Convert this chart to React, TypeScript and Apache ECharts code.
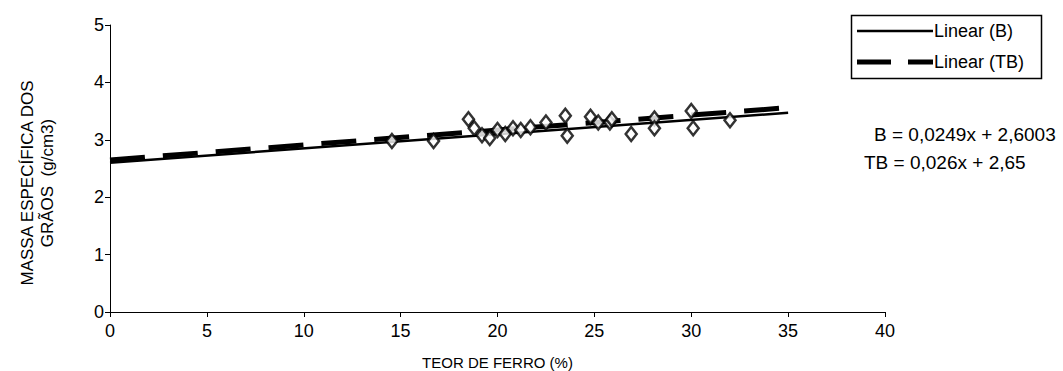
import React, { useEffect, useRef } from "react";
import * as echarts from "echarts";

const ironContent = [14.55, 16.7, 18.5, 18.8, 19.2, 19.6, 20.0, 20.4, 20.8, 21.2, 21.7, 22.5, 23.5, 23.6, 24.8, 25.2, 25.8, 25.9, 26.9, 28.1, 28.1, 30.0, 30.1, 32.0];
const grainDensity = [2.98, 2.98, 3.36, 3.2, 3.08, 3.03, 3.17, 3.1, 3.2, 3.17, 3.22, 3.3, 3.42, 3.07, 3.4, 3.3, 3.3, 3.36, 3.1, 3.37, 3.2, 3.5, 3.2, 3.34];
const trendX = [0, 35];
const trendB = [2.6003, 3.4718];
const trendTB = [2.65, 3.56];
const xTicks = [0, 5, 10, 15, 20, 25, 30, 35, 40];
const yTicks = [0, 1, 2, 3, 4, 5];
const legendNames = ["Linear (B)", "Linear (TB)"];
const equations = ["B = 0,0249x + 2,6003", "TB = 0,026x + 2,65"];

const FONT = "'Liberation Sans', Arial, sans-serif";

export default function App() {
  const ref = useRef<HTMLDivElement>(null);
  useEffect(() => {
    if (!ref.current) return;
    const chart = echarts.init(ref.current, null, { renderer: "svg" });
    chart.setOption({
      animation: false,
      backgroundColor: "#fff",
      textStyle: { fontFamily: FONT, color: "#000" },
      grid: { left: 110, right: 178, top: 25, bottom: 59, containLabel: false, outerBoundsMode: "none" },
      xAxis: {
        type: "value",
        min: xTicks[0],
        max: xTicks[xTicks.length - 1],
        interval: 5,
        name: "TEOR DE FERRO (%)",
        nameLocation: "middle",
        nameGap: 43,
        nameTextStyle: { fontFamily: FONT, fontSize: 15, color: "#000" },
        axisLine: { onZero: false, lineStyle: { color: "#000", width: 1 } },
        axisTick: { show: true, length: 5, lineStyle: { color: "#000" } },
        axisLabel: { fontFamily: FONT, fontSize: 18, color: "#000", margin: 10 },
        splitLine: { show: false },
      },
      yAxis: {
        type: "value",
        min: yTicks[0],
        max: yTicks[yTicks.length - 1],
        interval: 1,
        axisLine: { show: true, lineStyle: { color: "#000", width: 1 } },
        axisTick: { show: true, length: 5, lineStyle: { color: "#000" } },
        axisLabel: { fontFamily: FONT, fontSize: 18, color: "#000", margin: 6 },
        splitLine: { show: false },
      },
      series: [
        {
          name: legendNames[0],
          type: "line",
          data: trendX.map((x, i) => [x, trendB[i]]),
          symbol: "none",
          lineStyle: { color: "#000", width: 2.5 },
          z: 2,
        },
        {
          name: legendNames[1],
          type: "line",
          data: trendX.map((x, i) => [x, trendTB[i]]),
          symbol: "none",
          lineStyle: { color: "#000", width: 5, type: [35, 18] },
          z: 3,
        },
        {
          name: "data",
          type: "scatter",
          data: ironContent.map((x, i) => [x, grainDensity[i]]),
          symbol: "diamond",
          symbolSize: [11, 14],
          itemStyle: { color: "#fff", borderColor: "#000", borderWidth: 2.5 },
          z: 4,
        },
      ],
      graphic: [
        {
          type: "text",
          x: 37,
          y: 183,
          rotation: Math.PI / 2,
          style: {
            text: "MASSA ESPECÍFICA DOS\nGRÃOS  (g/cm3)",
            font: `17px ${FONT}`,
            fill: "#000",
            align: "center",
            verticalAlign: "middle",
            lineHeight: 20,
          },
        },
        {
          type: "rect",
          shape: { x: 851.5, y: 15.5, width: 190, height: 63 },
          style: { fill: "#fff", stroke: "#000", lineWidth: 1.5 },
        },
        {
          type: "line",
          shape: { x1: 857, y1: 31, x2: 933, y2: 31 },
          style: { stroke: "#000", lineWidth: 2.5 },
        },
        {
          type: "line",
          shape: { x1: 857, y1: 62, x2: 933, y2: 62 },
          style: { stroke: "#000", lineWidth: 5, lineDash: [34, 17] },
        },
        {
          type: "text",
          x: 934,
          y: 31,
          style: { text: legendNames[0], font: `18px ${FONT}`, fill: "#000", verticalAlign: "middle" },
        },
        {
          type: "text",
          x: 934,
          y: 62,
          style: { text: legendNames[1], font: `18px ${FONT}`, fill: "#000", verticalAlign: "middle" },
        },
        {
          type: "text",
          x: 874,
          y: 134,
          style: { text: equations[0], font: `19px ${FONT}`, fill: "#000", verticalAlign: "middle" },
        },
        {
          type: "text",
          x: 864,
          y: 162,
          style: { text: equations[1], font: `19px ${FONT}`, fill: "#000", verticalAlign: "middle" },
        },
      ],
    });
    return () => chart.dispose();
  }, []);
  return <div ref={ref} style={{ width: 1063, height: 371, position: "absolute", left: 0, top: 0 }} />;
}
